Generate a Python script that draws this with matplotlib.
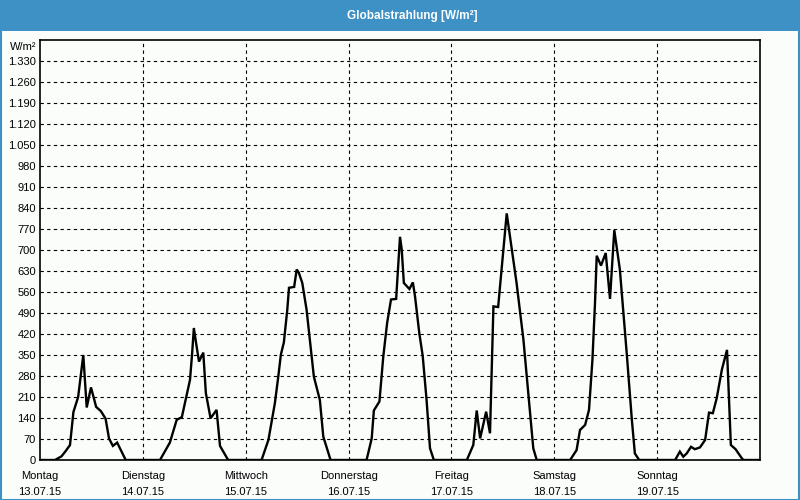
import matplotlib
matplotlib.use("Agg")
import matplotlib.pyplot as plt
from matplotlib.patches import Rectangle
import numpy as np

# ---- data (hour of day, W/m²) ----
day_names = ["Montag", "Dienstag", "Mittwoch", "Donnerstag", "Freitag", "Samstag", "Sonntag"]
day_dates = ["13.07.15", "14.07.15", "15.07.15", "16.07.15", "17.07.15", "18.07.15", "19.07.15"]

mon_h = [0, 3.5, 5.0, 6.0, 7.0, 7.8, 8.9, 10.1, 10.9, 11.9, 13.1, 14.2, 15.3, 16.1, 17.0, 18.0, 20.0]
mon_v = [0, 0, 12, 30, 50, 160, 210, 350, 175, 242, 177, 163, 138, 72, 47, 58, 0]

tue_h = [4.0, 6.3, 7.9, 9.1, 9.8, 11.0, 11.5, 11.9, 12.3, 13.1, 14.1, 14.7, 15.8, 17.2, 18.0, 19.9]
tue_v = [0, 58, 134, 143, 189, 267, 356, 440, 401, 328, 358, 223, 139, 167, 47, 0]

wed_h = [3.7, 5.3, 6.8, 7.6, 8.2, 8.9, 9.7, 10.1, 11.3, 11.9, 12.4, 13.2, 14.2, 15.9, 17.3, 18.1, 19.8]
wed_v = [0, 67, 189, 278, 351, 392, 501, 574, 577, 635, 624, 590, 501, 278, 200, 78, 0]

thu_h = [4.2, 5.4, 5.9, 7.2, 8.1, 9.0, 9.9, 11.1, 12.0, 12.4, 12.9, 14.2, 15.0, 15.5, 16.5, 17.3, 18.2, 19.0, 19.9]
thu_v = [0, 72, 165, 195, 345, 457, 535, 537, 744, 702, 590, 570, 592, 546, 423, 347, 200, 39, 0]

fri_h = [3.6, 5.1, 5.9, 6.7, 8.1, 9.0, 9.8, 10.9, 12.9, 15.2, 16.8, 19.1, 19.9]
fri_v = [0, 50, 165, 72, 161, 89, 512, 510, 822, 590, 401, 39, 0]

sat_h = [3.7, 5.2, 6.0, 7.2, 8.1, 8.9, 9.5, 9.9, 10.9, 12.0, 13.0, 14.0, 15.3, 16.9, 18.1, 18.8, 19.8]
sat_v = [0, 33, 100, 117, 167, 334, 523, 681, 648, 690, 537, 766, 635, 356, 134, 22, 0]

sun_h = [4.2, 5.3, 6.1, 6.9, 7.9, 8.8, 10.0, 11.2, 12.1, 13.0, 13.9, 15.1, 16.3, 17.2, 18.3, 19.6, 20.1, 24.0]
sun_v = [0, 28, 11, 22, 44, 36, 42, 67, 158, 156, 206, 301, 367, 50, 36, 9, 0, 0]

y_ticks = list(range(0, 1331, 70))

days_h = [mon_h, tue_h, wed_h, thu_h, fri_h, sat_h, sun_h]
days_v = [mon_v, tue_v, wed_v, thu_v, fri_v, sat_v, sun_v]

hours = np.concatenate([np.array(h) + 24 * i for i, h in enumerate(days_h)])
values = np.concatenate([np.array(v, dtype=float) for v in days_v])

# ---- style ----
BG = "#fbfdfb"
BLUE = "#3d91c4"
FONT = "Liberation Sans"

fig = plt.figure(figsize=(8, 5), dpi=100, facecolor=BG)
ax = fig.add_axes([0.05, 0.08, 0.90, 0.84])
ax.set_facecolor(BG)

# title bar
fig.patches.append(Rectangle((0, 1 - 31 / 500), 1, 31 / 500, transform=fig.transFigure,
                             facecolor=BLUE, edgecolor="none", zorder=0))
fig.patches.append(Rectangle((0.5 / 800, 0.5 / 500), 1 - 1.5 / 800, 1 - 1.5 / 500,
                             transform=fig.transFigure, facecolor="none",
                             edgecolor=BLUE, linewidth=1.5, zorder=5))
fig.text(412 / 800, 1 - 16 / 500, "Globalstrahlung [W/m²]", color="white",
         fontsize=8.5, fontweight="bold", family=FONT, ha="center", va="center")

ax.plot(hours, values, color="black", linewidth=1.7, solid_joinstyle="miter", zorder=3)

ax.set_xlim(0, 168)
ax.set_ylim(0, 1400)

ax.set_yticks(y_ticks)
ax.set_yticklabels([f"{t:,}".replace(",", ".") for t in y_ticks], family=FONT, fontsize=8)
ax.set_xticks([24 * i for i in range(7)])
ax.set_xticklabels([f"{n}\n{d}" for n, d in zip(day_names, day_dates)],
                   family=FONT, fontsize=8, linespacing=1.7)
ax.tick_params(axis="y", length=0, pad=3)
ax.tick_params(axis="x", length=0, pad=8)

for y in y_ticks[1:]:
    ax.axhline(y, color="black", linewidth=0.8, linestyle=(0, (3, 3)), zorder=1)
for x in range(24, 168, 24):
    ax.axvline(x, color="black", linewidth=0.8, linestyle=(0, (3, 3)), zorder=1)

for s in ax.spines.values():
    s.set_color("black")
    s.set_linewidth(1.2)

ax.text(-0.005, 1377, "W/m²", transform=ax.get_yaxis_transform(), ha="right", va="center",
        family=FONT, fontsize=8)

fig.savefig("out.png", dpi=100, facecolor=BG)
